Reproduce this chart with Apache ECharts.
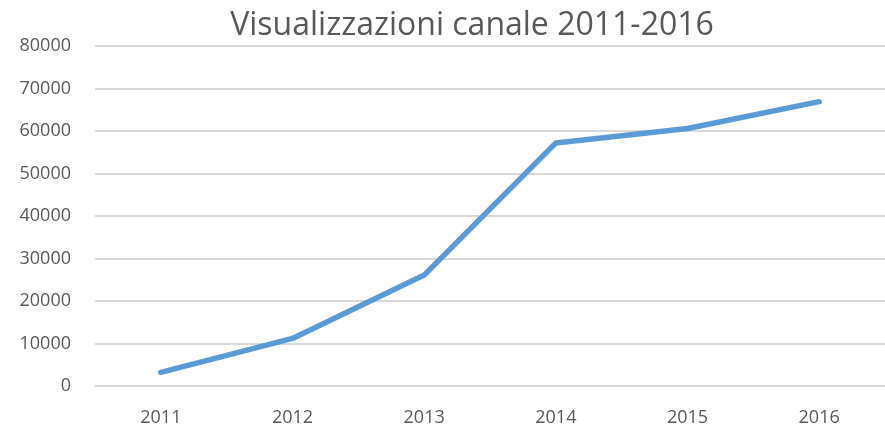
<html lang='it'>
<head>
    <meta charset='UTF-8'>
    <title>Visualizzazioni canale 2011-2016</title>
    <style>
        html, body { margin: 0; padding: 0; background: #ffffff; }
        #chart { width: 885px; height: 427px; }
    </style>
</head>
<body>
    <div id='chart'></div>
</body>
<script src='https://cdn.jsdelivr.net/npm/echarts@6/dist/echarts.min.js'></script>
<script>
    var titolo = 'Visualizzazioni canale 2011-2016';
    var anni = ['2011', '2012', '2013', '2014', '2015', '2016'];
    var visualizzazioni = [3200, 11200, 26100, 57200, 60600, 66900];

    var mychart = echarts.init(document.getElementById('chart'));
    var option = {
        animation: false,
        textStyle: { fontFamily: 'Open Sans' },
        title: {
            text: titolo,
            left: 467,
            textAlign: 'center',
            top: 5,
            textStyle: { color: '#595959', fontSize: 32, fontWeight: 'normal', fontFamily: 'Open Sans' }
        },
        grid: { left: 95, top: 46, right: -8, bottom: 41, containLabel: false },
        xAxis: {
            type: 'category',
            data: anni,
            boundaryGap: true,
            axisLine: { lineStyle: { color: '#D9D9D9', width: 2 } },
            axisTick: { show: false },
            axisLabel: { color: '#595959', fontSize: 18, margin: 23 }
        },
        yAxis: {
            type: 'value',
            min: 0,
            max: 80000,
            interval: 10000,
            axisLine: { show: false },
            axisTick: { show: false },
            axisLabel: {
                color: '#595959', fontSize: 18, margin: 24,
                formatter: function (v) { return String(v); }
            },
            splitLine: { lineStyle: { color: '#D9D9D9', width: 2 } }
        },
        series: [{
            type: 'line',
            data: visualizzazioni,
            showSymbol: false,
            lineStyle: { color: '#5B9BD5', width: 5.5, cap: 'round', join: 'round' }
        }]
    };
    mychart.setOption(option);
</script>
</html>
